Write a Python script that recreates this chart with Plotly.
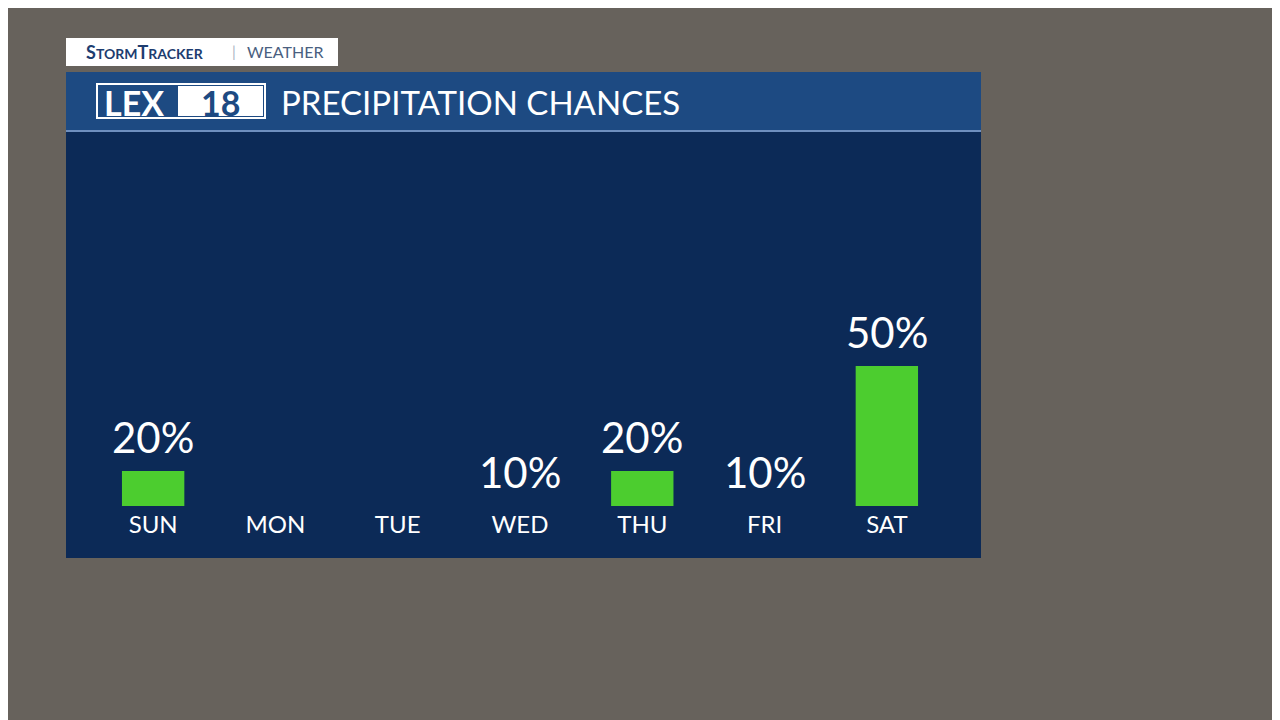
import plotly.graph_objects as go

# precipitation chances for the week
days = ["SUN", "MON", "TUE", "WED", "THU", "FRI", "SAT"]
chances = [20, 0, 0, 10, 20, 10, 50]

# the graphic draws bars above a 10% floor
bar_heights = [max(c - 10, 0) for c in chances]
labels = [f"{c}%" if c > 0 else "" for c in chances]

W, H = 1280, 720
OFF = 8  # the page puts the figure 8px in from the top-left corner
NAVY = "#0c2a57"
GREEN = "#4ccd2f"
FONT = "Lato"
PL, PR, PT, PB = 92 - OFF, 948 - OFF, 140 - OFF, 506 - OFF

fig = go.Figure()
fig.add_trace(go.Bar(
    x=days, y=bar_heights, width=0.51,
    marker=dict(color=GREEN, line=dict(width=0)),
    hoverinfo="skip",
))

for d, h, lab in zip(days, bar_heights, labels):
    if lab:
        fig.add_annotation(x=d, y=h, text=lab, showarrow=False, yanchor="bottom",
                           yshift=7, font=dict(family=FONT, size=42, color="white"))


def rect(x0, y0, x1, y1, **kw):
    # pixel coordinates of the reference converted to paper space
    x0, y0, x1, y1 = x0 - OFF, y0 - OFF, x1 - OFF, y1 - OFF
    fig.add_shape(type="rect", xref="paper", yref="paper", layer="below",
                  x0=(x0 - PL) / (PR - PL), x1=(x1 - PL) / (PR - PL),
                  y0=(PB - y0) / (PB - PT), y1=(PB - y1) / (PB - PT), **kw)


def text(x, y, s, size, color, anchor="left", weight="normal"):
    x, y = x - OFF, y - OFF
    fig.add_annotation(xref="paper", yref="paper", x=(x - PL) / (PR - PL),
                       y=(PB - y) / (PB - PT), text=s, showarrow=False,
                       xanchor=anchor, yanchor="middle",
                       font=dict(family=FONT, size=size, color=color, weight=weight))


# panel body and header band
rect(66, 72, 981, 558, fillcolor=NAVY, line=dict(width=0))
rect(66, 72, 981, 130, fillcolor="#1d4a82", line=dict(width=0))
rect(66, 130, 981, 132, fillcolor="#6f8fbf", line=dict(width=0))
# StormTracker tab
rect(66, 38, 338, 66, fillcolor="white", line=dict(width=0))
text(84, 52, "S<span style='font-size:14px'>TORM</span>T<span style='font-size:14px'>RACKER</span>",
     18, "#1d3d70", weight="bold")
text(230, 51, "|", 15, "#aab3c2")
text(245, 52, "WEATHER", 16, "#4a5f80")
# LEX18 logo
rect(97, 84, 265, 118, fillcolor="rgba(0,0,0,0)", line=dict(color="white", width=2))
text(102, 102, "LEX", 34, "white", weight="bold")
rect(178, 86, 263, 116, fillcolor="white", line=dict(width=0))
text(220, 102, "18", 34, "#1d4a82", anchor="center", weight="bold")
text(279, 102, "PRECIPITATION CHANCES", 33, "white")

fig.update_layout(
    width=W, height=H,
    margin=dict(l=PL, r=W - PR, t=PT, b=H - PB),
    paper_bgcolor="#67625c", plot_bgcolor="rgba(0,0,0,0)",
    showlegend=False, bargap=0.49,
    xaxis=dict(showgrid=False, zeroline=False, showline=False, ticks="",
               tickfont=dict(family=FONT, size=24, color="white"), ticklabelstandoff=2),
    yaxis=dict(range=[0, 104.6], visible=False, fixedrange=True),
)

fig.write_html("out.html")
